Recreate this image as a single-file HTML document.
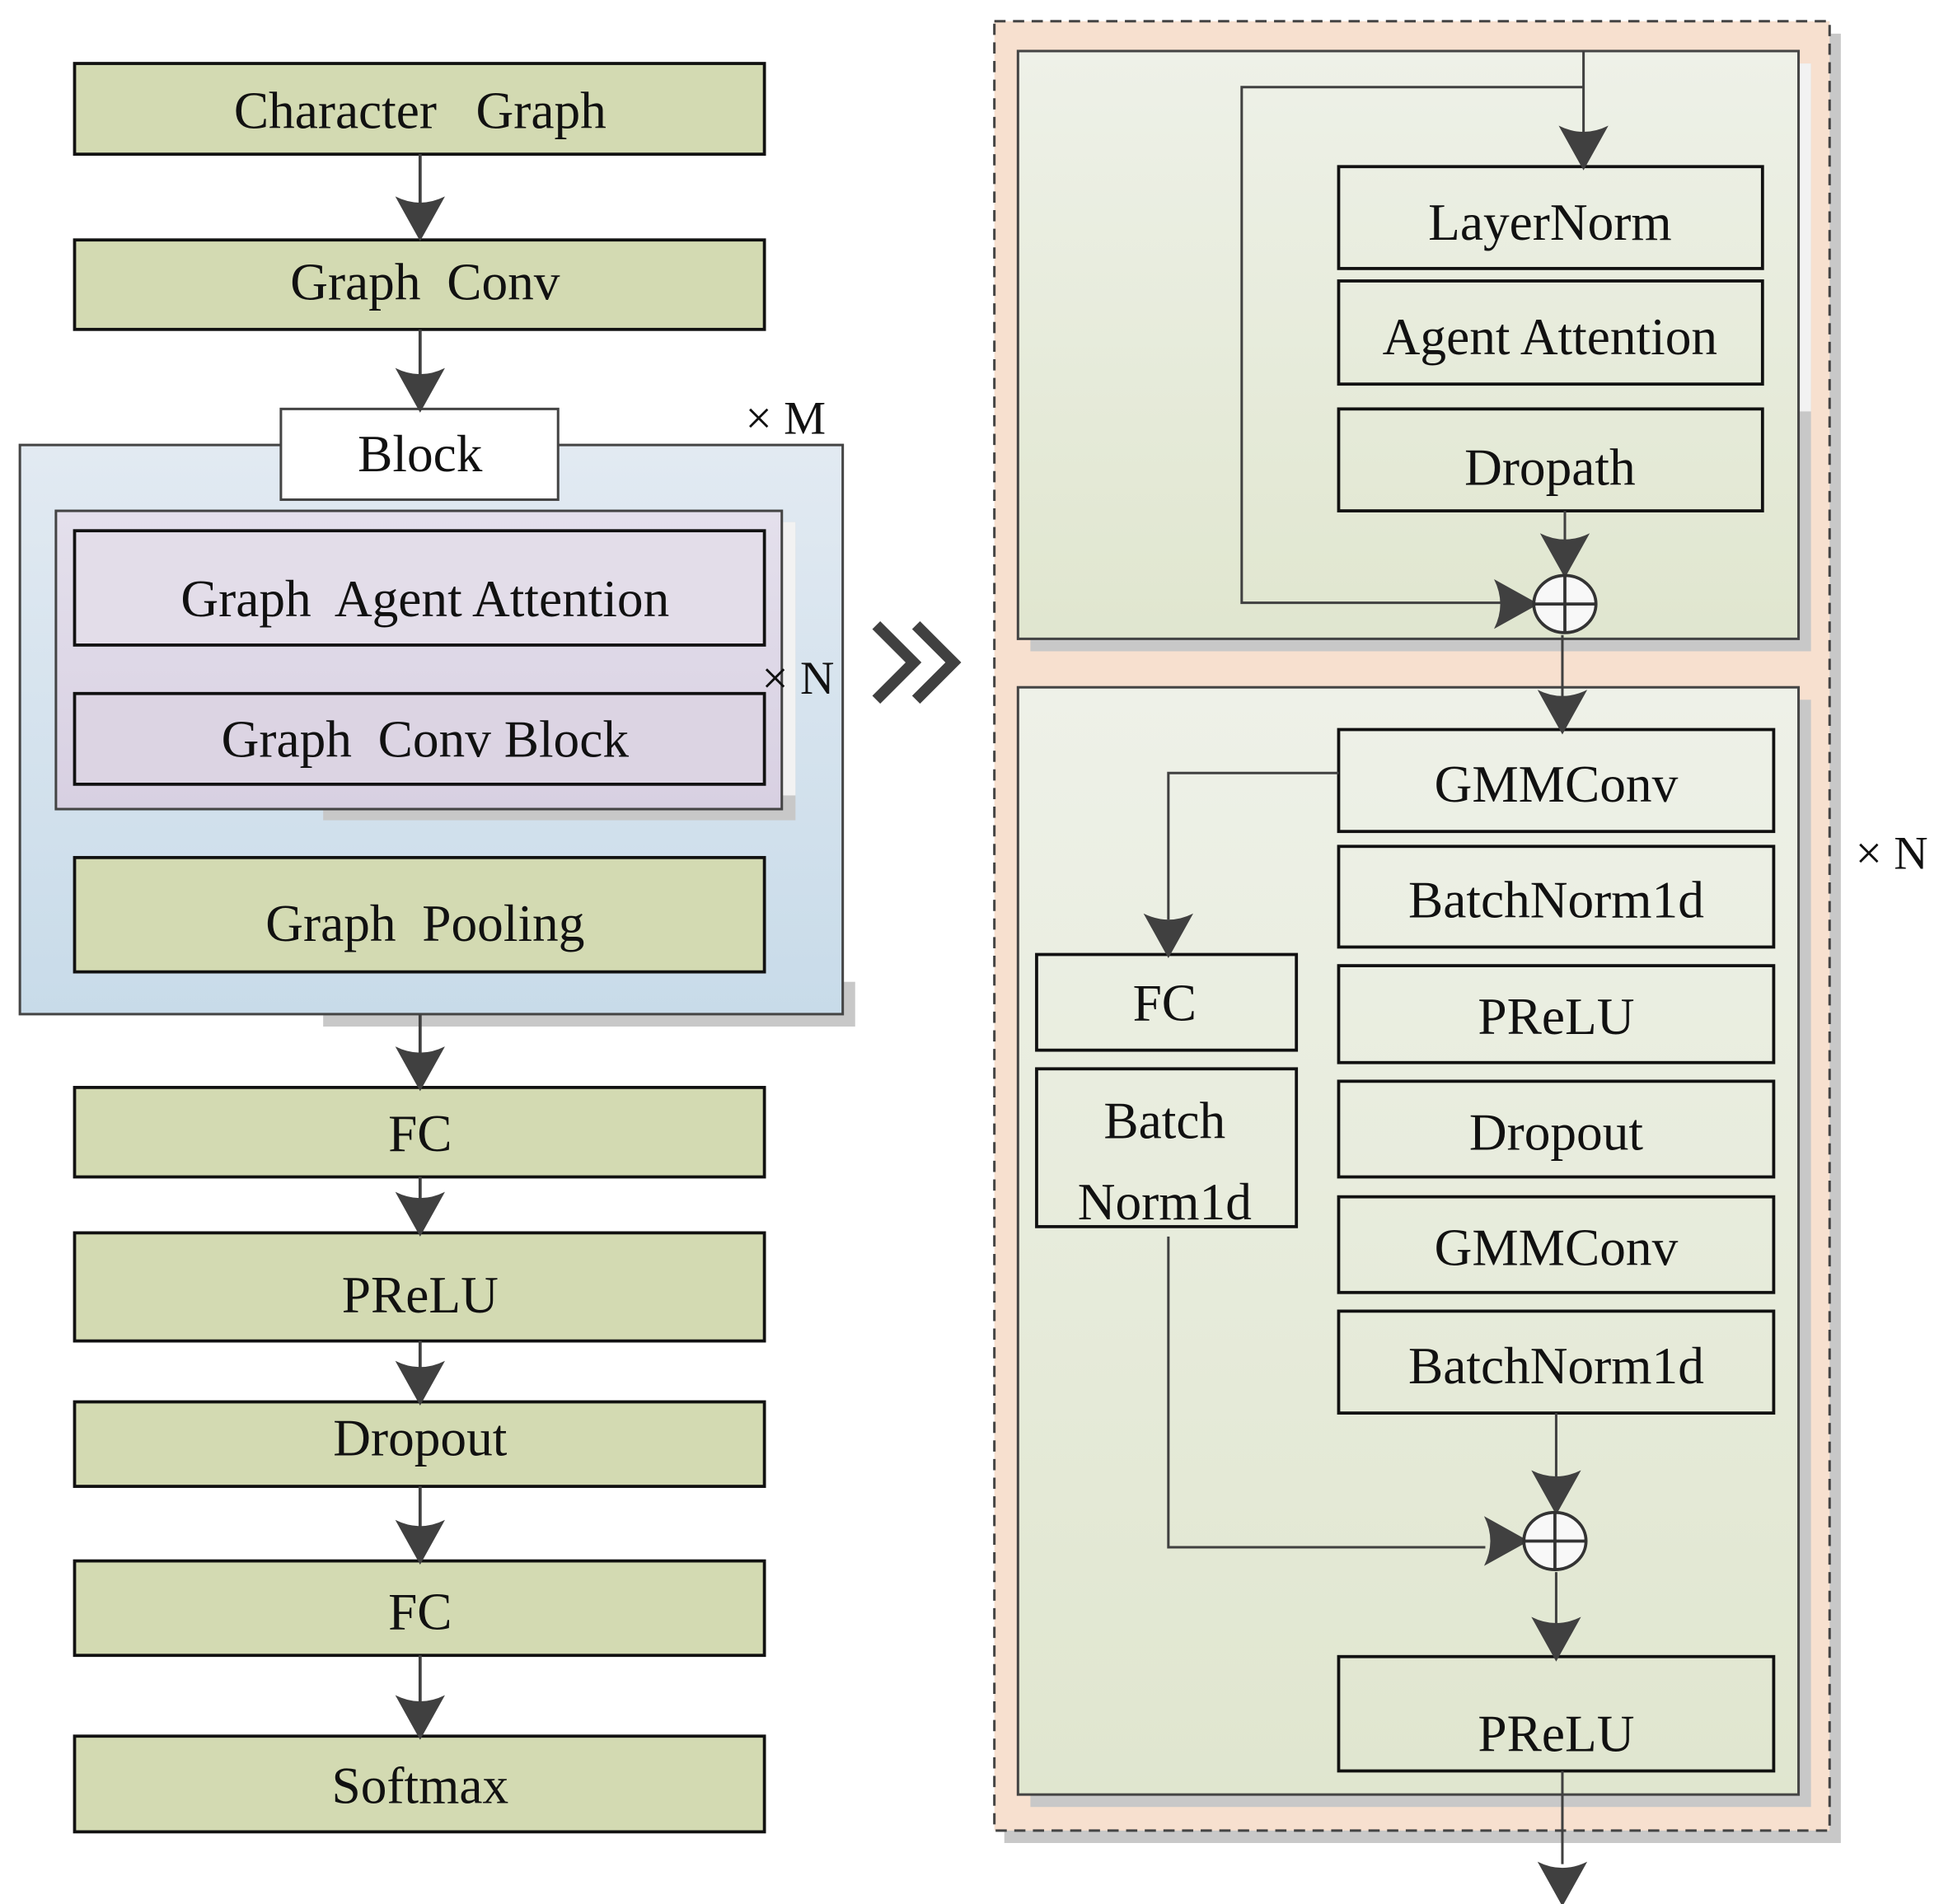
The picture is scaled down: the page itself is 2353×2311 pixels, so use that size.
<!DOCTYPE html>
<html><head><meta charset="utf-8"><style>html,body{margin:0;padding:0;background:#fff}svg{display:block}text{white-space:pre}</style></head><body>
<svg width="2353" height="2311" viewBox="0 0 1560 1532" xmlns="http://www.w3.org/2000/svg" font-family="'Liberation Serif', serif" font-size="42" text-anchor="middle" xml:space="preserve">
<defs>
<linearGradient id="blue" x1="0" y1="0" x2="0" y2="1"><stop offset="0" stop-color="#e2eaf2"/><stop offset="1" stop-color="#c8dbe9"/></linearGradient>
<linearGradient id="purp" x1="0" y1="0" x2="0" y2="1"><stop offset="0" stop-color="#e4e0ec"/><stop offset="1" stop-color="#d8d0e2"/></linearGradient>
<linearGradient id="grn" x1="0" y1="0" x2="0" y2="1"><stop offset="0" stop-color="#eef1e8"/><stop offset="1" stop-color="#e0e6cf"/></linearGradient>
<g id="ah"><path d="M-20,-32 Q0,-22 20,-32 L0,4 Z" fill="#404040"/></g>
</defs>
<g stroke="#111" stroke-width="2.5">
<rect x="60" y="51" width="555" height="73" fill="#d3dab2"/>
<rect x="60" y="193" width="555" height="72" fill="#d3dab2"/>
<rect x="260" y="790" width="428" height="36" fill="#c8c8c8" stroke="none"/>
<rect x="16" y="358" width="662" height="458" fill="url(#blue)" stroke="#444" stroke-width="2"/>
<rect x="226" y="329" width="223" height="73" fill="#fff" stroke="#444" stroke-width="2"/>
<rect x="260" y="420" width="380" height="240" fill="#c8c8c8" stroke="none"/>
<rect x="629" y="420" width="11" height="220" fill="#f2f2f2" stroke="none"/>
<rect x="45" y="411" width="584" height="240" fill="url(#purp)" stroke="#444" stroke-width="2"/>
<rect x="60" y="427" width="555" height="92" fill="#e3dde9"/>
<rect x="60" y="558" width="555" height="73" fill="#dcd4e3"/>
<rect x="60" y="690" width="555" height="92" fill="#d3dab2"/>
<rect x="60" y="875" width="555" height="72" fill="#d3dab2"/>
<rect x="60" y="992" width="555" height="87" fill="#d3dab2"/>
<rect x="60" y="1128" width="555" height="68" fill="#d3dab2"/>
<rect x="60" y="1256" width="555" height="76" fill="#d3dab2"/>
<rect x="60" y="1397" width="555" height="77" fill="#d3dab2"/>
</g>
<g stroke="#404040" stroke-width="2.5">
<line x1="338" y1="124" x2="338" y2="170"/><line x1="338" y1="265" x2="338" y2="305"/>
<line x1="338" y1="816" x2="338" y2="850"/><line x1="338" y1="947" x2="338" y2="970"/>
<line x1="338" y1="1079" x2="338" y2="1105"/><line x1="338" y1="1196" x2="338" y2="1232"/>
<line x1="338" y1="1332" x2="338" y2="1372"/>
</g>
<use href="#ah" x="338" y="190"/><use href="#ah" x="338" y="328"/><use href="#ah" x="338" y="874"/>
<use href="#ah" x="338" y="991"/><use href="#ah" x="338" y="1127"/><use href="#ah" x="338" y="1255"/><use href="#ah" x="338" y="1396"/>
<g fill="#111">
<text x="338" y="103">Character   Graph</text>
<text x="342" y="241">Graph  Conv</text>
<text x="338" y="379">Block</text>
<text x="342" y="496">Graph  Agent Attention</text>
<text x="342" y="609">Graph  Conv Block</text>
<text x="342" y="757">Graph  Pooling</text>
<text x="338" y="926">FC</text>
<text x="338" y="1056">PReLU</text>
<text x="338" y="1171">Dropout</text>
<text x="338" y="1311">FC</text>
<text x="338" y="1451">Softmax</text>
<text x="632" y="349" font-size="38">× M</text>
<text x="642" y="558" font-size="38">× N</text>
<text x="1522" y="699" font-size="38">× N</text>
</g>
<path d="M705,503 L735,533 L705,563 M737,503 L767,533 L737,563" fill="none" stroke="#404040" stroke-width="9"/>
<rect x="808" y="27" width="673" height="1456" fill="#c8c8c8"/>
<rect x="800" y="17" width="672" height="1456" fill="#f7e0cf" stroke="#444" stroke-width="2" stroke-dasharray="9,6"/>
<rect x="829" y="51" width="628" height="473" fill="#c8c8c8"/>
<rect x="1447" y="51" width="10" height="280" fill="#f2f2f2"/>
<rect x="819" y="41" width="628" height="473" fill="url(#grn)" stroke="#444" stroke-width="2"/>
<rect x="829" y="563" width="628" height="891" fill="#c8c8c8"/>
<rect x="819" y="553" width="628" height="891" fill="url(#grn)" stroke="#444" stroke-width="2"/>
<g stroke="#111" stroke-width="2.5" fill="none">
<rect x="1077" y="134" width="341" height="82"/>
<rect x="1077" y="226" width="341" height="83"/>
<rect x="1077" y="329" width="341" height="82"/>
<rect x="1077" y="587" width="350" height="82"/>
<rect x="1077" y="681" width="350" height="81"/>
<rect x="1077" y="777" width="350" height="78"/>
<rect x="1077" y="870" width="350" height="77"/>
<rect x="1077" y="963" width="350" height="77"/>
<rect x="1077" y="1055" width="350" height="82"/>
<rect x="1077" y="1333" width="350" height="92"/>
<rect x="834" y="768" width="209" height="77"/>
<rect x="834" y="860" width="209" height="127"/>
</g>
<g stroke="#404040" stroke-width="2" fill="none">
<path d="M1274,41 L1274,110"/>
<path d="M1274,70 L999,70 L999,485 L1210,485"/>
<path d="M1259,411 L1259,440"/>
<path d="M1257,511 L1257,565"/>
<path d="M1077,622 L940,622 L940,740"/>
<path d="M940,995 L940,1245 L1195,1245"/>
<path d="M1252,1137 L1252,1190"/>
<path d="M1252,1265 L1252,1310"/>
<path d="M1257,1425 L1257,1500"/>
</g>
<use href="#ah" x="1274" y="133"/><use href="#ah" x="1259" y="461"/><use href="#ah" x="1257" y="587"/>
<use href="#ah" x="940" y="767"/><use href="#ah" x="1252" y="1215"/><use href="#ah" x="1252" y="1333"/><use href="#ah" x="1257" y="1530"/>
<use href="#ah" transform="translate(1234,486) rotate(-90)"/><use href="#ah" transform="translate(1226,1240) rotate(-90)"/>
<g stroke="#333" stroke-width="2.5" fill="#f8f8f8">
<ellipse cx="1259" cy="486" rx="25" ry="23"/><path d="M1234,486 H1284 M1259,463 V509"/>
<ellipse cx="1251" cy="1240" rx="25" ry="23"/><path d="M1226,1240 H1276 M1251,1217 V1263"/>
</g>
<g fill="#111">
<text x="1247" y="193">LayerNorm</text>
<text x="1247" y="285">Agent Attention</text>
<text x="1247" y="390">Dropath</text>
<text x="1252" y="645">GMMConv</text>
<text x="1252" y="738">BatchNorm1d</text>
<text x="1252" y="832">PReLU</text>
<text x="1252" y="925">Dropout</text>
<text x="1252" y="1018">GMMConv</text>
<text x="1252" y="1113">BatchNorm1d</text>
<text x="1252" y="1409">PReLU</text>
<text x="937" y="821">FC</text>
<text x="937" y="916">Batch</text>
<text x="937" y="981">Norm1d</text>
</g>
</svg>
</body></html>
